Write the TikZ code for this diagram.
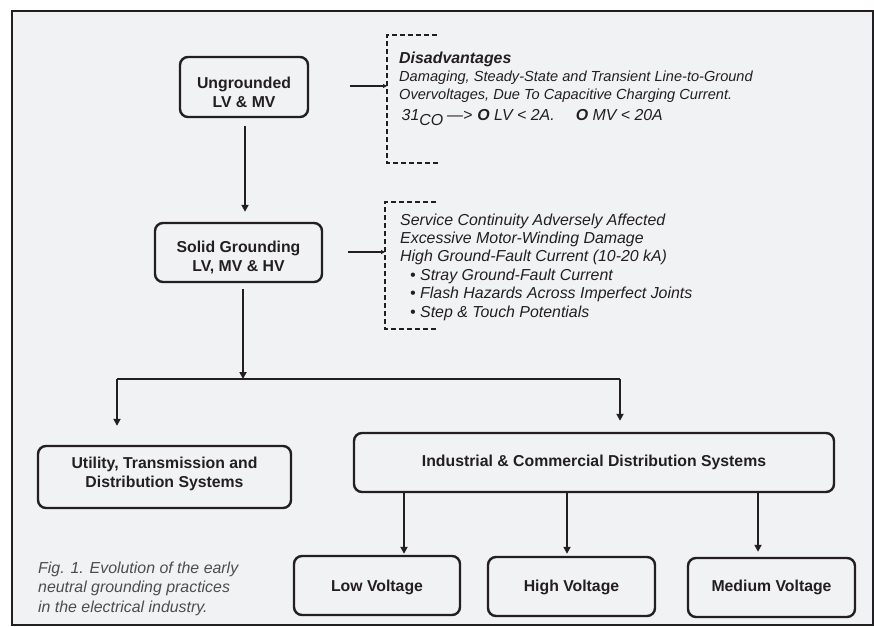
\documentclass[tikz,border=0pt]{standalone}
\usepackage{fontspec}
\setmainfont{Liberation Sans}
\usetikzlibrary{arrows.meta}
\definecolor{ink}{HTML}{231F20}
\definecolor{bg}{HTML}{F1F2F4}
\definecolor{capc}{HTML}{4D4D4D}
\begin{document}
\begin{tikzpicture}[x=1pt,y=-1pt,
  box/.style={draw=ink, line width=2.4pt, rounded corners=8pt, inner sep=0pt},
  boxtxt/.style={align=center, font=\fontsize{15.8}{19}\selectfont\bfseries, text=ink, inner sep=0pt},
  arr/.style={draw=ink, line width=2pt, -{Triangle[length=7pt,width=7pt]}},
  sarr/.style={draw=ink, line width=2pt, -{Triangle[length=4pt,width=4pt]}},
  brk/.style={draw=ink, line width=2.4pt, dash pattern=on 5pt off 3pt},
  itx/.style={align=left, anchor=base west, inner sep=0pt, text=ink,
    font=\fontsize{15.9}{18.4}\selectfont\itshape},
]
\useasboundingbox (0,0) rectangle (874,626);
\fill[white] (0,0) rectangle (874,626);
\draw[fill=bg, draw=ink, line width=2pt] (12,11) rectangle (873,625);

% boxes
\node[box, minimum width=128pt, minimum height=60pt,
  label={[boxtxt, yshift=-5pt]center:Ungrounded\\LV \& MV}] (U) at (244,87) {};
\node[box, minimum width=167pt, minimum height=59pt,
  label={[boxtxt, yshift=-5pt]center:Solid Grounding\\LV, MV \& HV}] (S) at (238.5,252.5) {};
\node[box, minimum width=253pt, minimum height=62pt,
  label={[boxtxt, yshift=3pt]center:Utility, Transmission and\\Distribution Systems}] (Ut) at (164.5,477) {};
\node[box, minimum width=480pt, minimum height=59pt,
  label={[boxtxt]center:Industrial \& Commercial Distribution Systems}] (Ind) at (594,462.5) {};
\node[box, minimum width=166pt, minimum height=59pt,
  label={[boxtxt, yshift=-2pt]center:Low Voltage}] (LV) at (377,585.5) {};
\node[box, minimum width=167pt, minimum height=59pt,
  label={[boxtxt, yshift=-1pt]center:High Voltage}] (HV) at (571.5,586.5) {};
\node[box, minimum width=167pt, minimum height=59pt,
  label={[boxtxt]center:Medium Voltage}] (MV) at (771.5,587.5) {};

% main flow
\draw[arr] ([shift={(1,8)}]U.south) -- ([shift={(6.5,-10)}]S.north);
\coordinate (J) at (243,379);
\coordinate (JL) at (117,379);
\coordinate (JR) at (620,379);
\draw[arr] ([shift={(4.5,6)}]S.south) -- (J);
\draw[draw=ink, line width=2pt] (JL) -- (JR);
\draw[arr] (JL) -- ([shift={(-47.5,-19)}]Ut.north);
\draw[arr] (JR) -- ([shift={(26,-11)}]Ind.north);
\draw[arr] ([shift={(-190,0)}]Ind.south) -- ([shift={(27,-1)}]LV.north);
\draw[arr] ([shift={(-27,0)}]Ind.south) -- ([shift={(-4.5,-2)}]HV.north);
\draw[arr] ([shift={(164,0)}]Ind.south) -- ([shift={(-13.5,-5)}]MV.north);

% bracket 1
\draw[brk] (437,35) -- (387,35) -- (387,163) -- (438,163);
\coordinate (A1) at (350,86);
\coordinate (B1) at (387,86);
\draw[sarr] (A1) -- (B1);
\node[itx] (T1) at (399,120) {\textbf{Disadvantages}\\[-1pt]
{\fontsize{14.6}{18}\selectfont Damaging, Steady-State and Transient Line-to-Ground}\\
{\fontsize{14.6}{18}\selectfont Overvoltages, Due To Capacitive Charging Current.}\\[2pt]
\hspace{2.5pt}31\raisebox{-5pt}{CO}\hspace{4pt}—>\hspace{5pt}\textbf{O} LV < 2A.\hspace{21pt}\textbf{O} MV < 20A};

% bracket 2
\draw[brk] (436,202) -- (385,202) -- (385,329) -- (437,329);
\coordinate (A2) at (348,252);
\coordinate (B2) at (385,252);
\draw[sarr] (A2) -- (B2);
\node[itx] (T2) at (400,317) {Service Continuity Adversely Affected\\
Excessive Motor-Winding Damage\\
High Ground-Fault Current (10-20 kA)\\
\hspace{10pt}• Stray Ground-Fault Current\\
\hspace{10pt}• Flash Hazards Across Imperfect Joints\\
\hspace{10pt}• Step \& Touch Potentials};

% caption
\node[itx, text=capc, font=\fontsize{15.9}{19.5}\selectfont\itshape] (cap) at (38,612)
  {Fig. 1. Evolution of the early\\neutral grounding practices\\in the electrical industry.};
\end{tikzpicture}
\end{document}
